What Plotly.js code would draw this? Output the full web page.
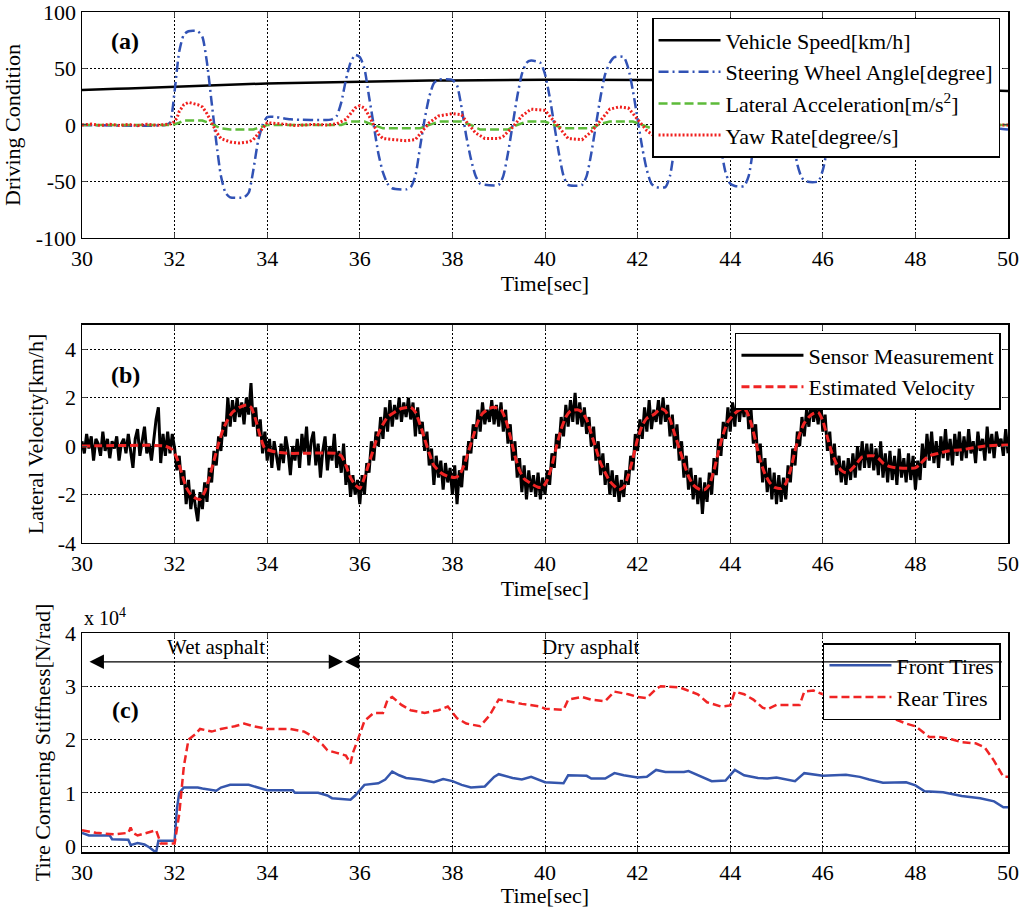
<!doctype html>
<html lang="en">
<head>
<meta charset="UTF-8">
<title>Driving condition, lateral velocity and cornering stiffness</title>
<script src="https://cdn.plot.ly/plotly-3.0.1.min.js"></script>
<style>
  body { margin: 0; background: white; }
  #chart { width: 1024px; height: 908px; }
</style>
</head>
<body>
<div id="chart"></div>
<script>
// ---------- (a) driving condition ----------
var speedTime  = [30,30.25,30.5,30.75,31,31.25,31.5,31.75,32,32.25,32.5,32.75,33,33.25,33.5,33.75,34,34.25,34.5,34.75,35,35.25,35.5,35.75,36,36.5,37,37.5,38,38.5,39,39.5,40,40.5,41,41.5,42,42.5,43,44,45,46,47,48,49,49.6,50];
var speedValue = [31,31.5,31.8,32,32.2,32.6,33,33.5,34.2,34.5,34.8,35.2,35.3,35.8,36.2,36.5,36.8,37,37.2,37.5,37.8,38,38.3,38.5,38.6,38.9,39.2,39.3,39.4,39.7,39.8,40,40,40.1,40,40.2,40.2,40.2,40,39.5,38.5,37,35.5,33.5,31.5,30.5,30];

var swaTime  = [30,31.8,31.9,32.0,32.1,32.2,32.3,32.5,32.6,32.7,32.8,32.9,33.0,33.1,33.2,33.5,33.6,33.7,33.8,33.9,34.0,34.2,34.5,35.4,35.5,35.6,35.7,35.8,35.9,36.0,
                36.1,36.2,36.3,36.4,36.5,36.6,36.7,37.0,37.1,37.2,37.3,37.4,37.5,37.6,37.7,38.0,38.1,38.2,38.3,38.4,38.5,38.6,38.7,39.0,39.1,39.2,39.3,39.4,39.5,39.6,
                39.7,39.9,40.0,40.1,40.2,40.3,40.4,40.5,40.8,40.9,41.0,41.1,41.2,41.3,41.4,41.5,41.7,41.8,41.9,42.0,42.1,42.2,42.3,42.4,42.6,42.7,42.8,43.0,43.2,43.4,
                43.6,43.7,43.8,43.9,44.0,44.1,44.3,44.4,44.5,44.6,44.8,45.0,45.2,45.35,45.45,45.55,45.65,45.9,46.0,46.1,46.2,46.3,47,48,49,49.8,50];
var swaValue = [0,0,2,30,65,80,83,83,78,55,20,-15,-45,-60,-64,-64,-60,-40,-15,0,7,7,5,5,8,20,40,55,62,60,
                50,25,0,-25,-42,-52,-56,-57,-55,-45,-20,5,25,37,40,40,35,15,-10,-30,-45,-52,-53,-53,-45,-25,0,25,45,55,
                57,55,45,25,0,-25,-45,-53,-53,-45,-25,0,25,45,55,60,60,50,30,5,-20,-40,-52,-55,-55,-45,-20,15,45,55,
                50,20,-20,-42,-52,-54,-54,-45,-20,5,40,50,30,-10,-35,-47,-50,-50,-40,-20,0,5,3,2,0,-3,-4];

var latTime  = [30,31.95,32.1,32.2,32.6,32.8,33.0,33.2,33.7,33.9,34.0,35.6,35.8,36.1,36.3,36.5,37.3,37.5,37.7,38.2,38.4,38.6,39.2,39.4,39.6,40.0,40.2,40.4,41.0,41.2,
                41.4,41.9,42.1,42.3,42.9,43.1,43.3,43.8,44.0,44.2,44.7,44.9,45.1,45.5,45.7,45.9,46.3,46.6,50];
var latValue = [0,0,2,4,4,1,-3,-4,-4,-1,0,0,3,3,0,-3,-3,0,3,3,0,-4,-4,0,3,3,0,-3,-3,1,
                3,3,0,-3,-3,0,3,3,0,-3,-3,0,3,3,0,-3,-2,0,0];

var yawTime  = [30,30.2,30.4,30.6,30.8,31.0,31.2,31.4,31.6,31.8,31.95,32.05,32.1,32.2,32.3,32.4,32.5,32.6,32.7,32.8,32.9,33.0,33.2,33.4,33.6,33.7,33.8,33.9,34.0,34.3,
                34.6,35.0,35.3,35.5,35.7,35.8,35.9,36.0,36.1,36.2,36.3,36.4,36.5,36.8,37.0,37.2,37.3,37.5,37.7,38.0,38.2,38.3,38.5,38.7,39.0,39.1,39.3,39.5,39.7,40.0,
                40.1,40.3,40.5,40.8,41.0,41.2,41.4,41.6,41.8,42.0,42.2,42.4,42.8,43.0,43.2,43.5,43.8,44.0,44.2,44.6,44.8,45.0,45.3,45.6,45.8,46.0,46.3,46.6,47,48,49,50];
var yawValue = [0,0.8,-0.5,0.6,-0.4,0.5,-0.6,0.7,-0.3,0.5,1,6,12,18,20,19,18,16,10,2,-6,-12,-15,-16,-15,-13,-8,-2,2,1,
                -0.5,0.5,0,1,5,10,15,17,15,8,0,-8,-12,-13,-14,-13,-8,2,8,10,9,3,-7,-12,-12,-10,-2,8,14,13,
                8,-2,-12,-13,-6,4,14,16,15,5,-5,-11,-12,-4,8,13,10,0,-10,-12,-4,8,12,5,-5,-9,-6,-2,0,0,0,0];

// ---------- (b) lateral velocity ----------
var sensorStart = 30, sensorStep = 0.05;
var sensorValue = [
  0.2,-0.3,0.5,-0.1,0.4,-0.6,0.3,0.1,-0.4,0.6,-0.2,0.3,-0.5,0.2,-0.1,0.4,-0.6,0.1,0.3,-0.3,
  0.5,-0.2,-0.9,0.3,0.7,-0.4,0.2,0.8,-0.3,0.1,-0.6,0.4,1.1,1.6,-0.7,0.5,-0.4,0.6,-0.3,0.5,
  -0.1,-1.0,-0.4,-1.6,-1.0,-2.4,-1.4,-2.6,-1.8,-2.5,-3.1,-1.9,-2.6,-1.5,-2.3,-0.9,-1.5,-0.2,-0.8,0.4,
  -0.2,1.0,0.4,2.0,0.8,1.9,1.0,2.0,1.2,1.8,0.9,2.0,1.3,2.6,0.8,1.6,0.4,1.1,-0.3,0.6,
  -0.6,0.3,-0.9,0.2,-0.5,-1.0,0.1,-0.7,0.4,-0.2,-1.2,0.0,-0.6,0.3,-0.9,0.5,-0.3,0.8,-0.8,0.2,
  0.6,-0.8,0.1,-1.3,-0.2,0.4,-1.0,0.0,-0.6,0.5,-0.9,-0.2,-1.1,0.1,-1.6,-0.8,-2.1,-1.2,-2.0,-1.4,
  -2.4,-1.2,-2.0,-0.7,-1.1,0.2,-0.6,0.6,0.0,1.2,0.3,1.6,0.6,1.9,0.8,1.7,1.1,2.0,1.0,1.8,
  1.2,2.0,1.1,1.8,0.4,1.6,0.5,1.0,-0.2,0.6,-0.8,-0.1,-1.6,-0.4,-1.3,-0.6,-1.8,-0.7,-1.5,-0.9,
  -2.0,-0.8,-2.4,-1.0,-1.7,-0.4,-1.0,0.2,-0.3,0.9,0.3,1.5,0.6,1.8,0.9,1.5,1.0,1.9,0.9,1.7,
  0.8,1.8,0.6,1.5,0.1,0.9,-0.6,0.2,-1.3,-0.5,-1.9,-0.8,-2.2,-1.0,-1.9,-1.2,-2.1,-1.1,-2.2,-1.3,
  -2.0,-1.0,-1.6,-0.3,-0.9,0.5,-0.1,1.2,0.4,1.7,0.8,1.9,1.0,2.2,0.9,1.8,0.8,1.6,0.5,1.2,
  0.0,0.8,-0.6,0.2,-1.2,-0.3,-1.6,-0.7,-2.0,-1.0,-2.1,-1.2,-2.3,-1.4,-2.1,-1.0,-1.6,-0.4,-1.0,0.5,
  -0.2,1.1,0.3,1.6,0.6,1.9,0.7,1.5,1.0,1.9,0.9,2.0,1.0,1.7,0.4,1.3,-0.1,0.9,-0.6,0.2,
  -1.3,-0.4,-1.8,-0.9,-2.2,-1.2,-2.4,-1.3,-2.8,-1.5,-2.3,-1.1,-2.0,-0.5,-1.2,0.3,-0.4,1.0,0.3,1.6,
  0.6,1.8,0.8,2.2,1.0,1.9,1.2,2.3,0.7,1.5,0.1,0.9,-0.7,0.1,-1.5,-0.5,-1.9,-0.9,-2.2,-1.1,
  -2.4,-1.2,-2.3,-1.3,-2.2,-0.8,-1.5,-0.1,-0.8,0.6,0.0,1.2,0.4,1.5,0.8,1.9,1.0,1.6,0.9,2.0,
  0.6,1.3,-0.2,0.6,-0.8,0.1,-1.2,-0.4,-1.5,-0.6,-1.6,-0.5,-1.4,-0.3,-1.3,0.0,-1.0,0.2,-0.9,0.1,
  -0.9,0.1,-1.0,-0.1,-1.2,0.2,-1.3,-0.3,-1.5,-0.2,-1.4,-0.4,-1.6,-0.1,-1.3,-0.5,-1.5,-0.3,-1.4,-0.4,
  -1.8,-0.6,-1.4,0.1,-0.9,0.5,-0.6,0.6,-0.7,0.2,-0.9,0.4,-0.5,0.7,-0.6,0.3,-0.8,0.5,-0.4,0.6,
  -0.6,0.4,-0.5,0.7,-0.3,0.2,-0.7,0.6,-0.2,0.3,-0.6,0.8,-0.3,0.5,-0.5,0.6,0.0,0.3,-0.4,0.7,
  -0.3
];
var sensorTime = sensorValue.map(function (v, i) { return sensorStart + i * sensorStep; });

var estTime  = [30,31.8,31.95,32.05,32.15,32.25,32.35,32.45,32.55,32.65,32.75,32.85,32.95,33.05,33.15,33.25,33.4,33.55,33.65,33.75,33.85,33.95,34.2,34.5,35.5,35.6,35.7,35.8,35.9,36.0,
                36.1,36.2,36.3,36.4,36.5,36.6,36.75,36.9,37.1,37.2,37.3,37.4,37.5,37.6,37.75,37.9,38.05,38.15,38.25,38.35,38.45,38.55,38.65,38.8,38.9,39.05,39.15,39.25,39.35,39.45,
                39.55,39.7,39.85,39.95,40.05,40.15,40.25,40.35,40.45,40.55,40.7,40.8,40.9,41.0,41.1,41.2,41.3,41.4,41.5,41.6,41.7,41.8,41.9,42.0,42.1,42.2,42.35,42.5,42.6,42.7,
                42.8,42.9,43.0,43.1,43.2,43.35,43.45,43.55,43.65,43.75,43.85,43.95,44.1,44.25,44.35,44.45,44.55,44.65,44.75,44.85,44.95,45.1,45.2,45.3,45.4,45.5,45.6,45.7,45.8,45.9,
                46.0,46.1,46.2,46.3,46.4,46.5,46.6,46.7,46.85,47.0,47.1,47.2,47.3,47.45,47.6,48.0,48.1,48.2,48.3,48.5,48.7,49.0,49.5,50];
var estValue = [0,0,-0.15,-0.5,-1.1,-1.7,-2.0,-2.15,-2.2,-1.9,-1.3,-0.6,0.1,0.7,1.1,1.4,1.6,1.7,1.6,1.1,0.4,-0.1,-0.25,-0.3,-0.3,-0.4,-0.8,-1.3,-1.6,-1.75,
                -1.3,-0.7,-0.1,0.5,0.9,1.2,1.4,1.55,1.6,1.4,0.9,0.3,-0.3,-0.8,-1.1,-1.25,-1.3,-1.2,-0.8,-0.2,0.4,1.0,1.35,1.55,1.6,1.5,1.1,0.4,-0.4,-1.0,
                -1.35,-1.55,-1.7,-1.7,-1.4,-0.8,0.0,0.7,1.2,1.45,1.5,1.4,1.1,0.5,-0.1,-0.7,-1.1,-1.45,-1.65,-1.8,-1.7,-1.2,-0.5,0.3,0.85,1.15,1.3,1.55,1.45,1.1,
                0.5,-0.1,-0.7,-1.25,-1.6,-1.8,-1.8,-1.6,-1.0,-0.2,0.5,1.0,1.35,1.55,1.45,0.95,0.2,-0.6,-1.15,-1.5,-1.7,-1.75,-1.55,-1.0,-0.2,0.5,0.95,1.2,1.35,1.4,
                1.05,0.35,-0.3,-0.75,-1.0,-1.1,-1.0,-0.8,-0.45,-0.4,-0.4,-0.5,-0.7,-0.85,-0.9,-0.9,-0.75,-0.55,-0.4,-0.3,-0.2,-0.15,0.0,0.05];

// ---------- (c) cornering stiffness, x 10^4 N/rad ----------
var frontTime  = [30,30.15,30.6,30.65,31.0,31.05,31.2,31.35,31.45,31.55,31.6,31.65,32.0,32.05,32.1,32.2,32.5,32.6,32.9,33.0,33.2,33.6,33.8,34.0,34.55,34.6,35.1,35.3,35.4,35.8,
                  35.9,36.0,36.1,36.4,36.55,36.7,36.85,37.0,37.3,37.6,37.8,38.0,38.2,38.4,38.7,38.9,39.0,39.3,39.5,39.7,40.0,40.4,40.5,40.9,41.0,41.3,41.5,41.7,42.0,42.2,
                  42.4,42.6,43.0,43.1,43.4,43.6,43.9,44.1,44.3,44.6,44.8,45.0,45.4,45.6,46.0,46.5,46.8,47.0,47.3,47.8,48.0,48.2,48.6,49.0,49.4,49.7,49.9,50];
var frontValue = [0.25,0.2,0.2,0.13,0.12,0.02,0.06,0.03,-0.02,-0.08,-0.12,0.1,0.1,0.7,1.0,1.1,1.1,1.08,1.04,1.1,1.15,1.15,1.1,1.05,1.05,1.0,1.0,0.95,0.9,0.87,
                  0.95,1.05,1.15,1.18,1.25,1.4,1.33,1.28,1.25,1.2,1.26,1.22,1.15,1.1,1.12,1.3,1.35,1.28,1.25,1.3,1.2,1.18,1.33,1.32,1.27,1.27,1.37,1.33,1.29,1.3,
                  1.43,1.39,1.39,1.41,1.3,1.22,1.23,1.43,1.33,1.28,1.27,1.29,1.22,1.37,1.32,1.34,1.3,1.25,1.19,1.2,1.14,1.03,1.01,0.94,0.9,0.84,0.73,0.73];

var rearTime  = [30,30.3,30.7,31.0,31.05,31.1,31.2,31.5,31.6,31.7,32.0,32.1,32.15,32.2,32.3,32.45,32.55,32.8,33.0,33.3,33.5,33.7,34.0,34.5,34.8,35.0,35.2,35.3,35.5,35.7,
                 35.8,35.85,36.0,36.1,36.3,36.5,36.6,36.7,36.9,37.1,37.4,37.7,37.9,38.1,38.3,38.6,38.8,39.0,39.2,39.5,39.9,40.0,40.4,40.5,40.8,41.0,41.3,41.5,41.8,42.0,
                 42.2,42.4,42.5,42.9,43.0,43.3,43.5,43.8,44.0,44.1,44.3,44.5,44.7,44.8,45.0,45.5,45.6,45.8,46.0,46.5,47.0,47.3,47.5,47.8,48.0,48.3,48.5,48.8,49.0,49.3,
                 49.5,49.7,49.9,50];
var rearValue = [0.3,0.25,0.22,0.25,0.35,0.25,0.2,0.27,0.3,0.05,0.05,0.6,1.0,1.5,2.0,2.1,2.2,2.15,2.2,2.25,2.3,2.25,2.2,2.2,2.15,2.05,1.9,1.8,1.75,1.7,
                 1.55,1.75,2.1,2.35,2.5,2.5,2.75,2.8,2.65,2.55,2.5,2.55,2.62,2.4,2.3,2.25,2.45,2.75,2.72,2.67,2.62,2.58,2.56,2.75,2.8,2.75,2.72,2.9,2.85,2.8,
                 2.78,2.95,3.0,2.98,2.95,2.85,2.7,2.62,2.64,2.9,2.85,2.75,2.6,2.57,2.65,2.65,2.9,2.92,2.85,2.85,2.67,2.5,2.4,2.3,2.25,2.05,2.05,2.0,1.95,1.93,
                 1.85,1.6,1.3,1.3];

var xTicks = [30, 32, 34, 36, 38, 40, 42, 44, 46, 48, 50];
var yTicksA = [-100, -50, 0, 50, 100];
var yTicksB = [-4, -2, 0, 2, 4];
var yTicksC = [0, 1, 2, 3, 4];

var serif = 'Liberation Serif, Times New Roman, serif';
var fs = 22;

var traces = [
  { x: speedTime, y: speedValue, name: 'Vehicle Speed[km/h]', mode: 'lines',
    line: { color: 'black', width: 2.5 }, xaxis: 'x', yaxis: 'y', legend: 'legend' },
  { x: swaTime, y: swaValue, name: 'Steering Wheel Angle[degree]', mode: 'lines',
    line: { color: '#3152b5', width: 2.5, dash: '10px,4px,2px,4px', shape: 'spline', smoothing: 0.6 },
    xaxis: 'x', yaxis: 'y', legend: 'legend' },
  { x: latTime, y: latValue, name: 'Lateral Acceleration[m/s<sup>2</sup>]', mode: 'lines',
    line: { color: '#5dbb3a', width: 2.5, dash: '9px,4px' }, xaxis: 'x', yaxis: 'y', legend: 'legend' },
  { x: yawTime, y: yawValue, name: 'Yaw Rate[degree/s]', mode: 'lines',
    line: { color: '#f0201e', width: 3, dash: '2px,2px' }, xaxis: 'x', yaxis: 'y', legend: 'legend' },

  { x: sensorTime, y: sensorValue, name: 'Sensor Measurement', mode: 'lines',
    line: { color: 'black', width: 3 }, xaxis: 'x2', yaxis: 'y2', legend: 'legend2' },
  { x: estTime, y: estValue, name: 'Estimated Velocity', mode: 'lines',
    line: { color: '#f02424', width: 3, dash: '8px,4px', shape: 'spline', smoothing: 0.5 },
    xaxis: 'x2', yaxis: 'y2', legend: 'legend2' },

  { x: frontTime, y: frontValue, name: 'Front Tires', mode: 'lines',
    line: { color: '#3556ad', width: 2.5 }, xaxis: 'x3', yaxis: 'y3', legend: 'legend3' },
  { x: rearTime, y: rearValue, name: 'Rear Tires', mode: 'lines',
    line: { color: '#f02424', width: 2.5, dash: '8px,4px' }, xaxis: 'x3', yaxis: 'y3', legend: 'legend3' }
];

function axisBase() {
  return {
    ticks: 'inside', ticklen: 5, ticklabeloverflow: 'allow',
    showline: true, mirror: 'ticks', linecolor: 'black', linewidth: 1.5,
    showgrid: true, gridcolor: 'black', griddash: '2px,2px', gridwidth: 1, zeroline: false,
    tickfont: { family: serif, size: fs, color: 'black' }
  };
}
function xAxis(anchor) {
  return Object.assign(axisBase(), {
    anchor: anchor, range: [30, 50], tickvals: xTicks, ticktext: xTicks.map(String),
    title: { text: 'Time[sec]', font: { family: serif, size: fs, color: 'black' }, standoff: 2 }
  });
}
function yAxis(anchor, domain, range, ticks, title, standoff) {
  return Object.assign(axisBase(), {
    anchor: anchor, domain: domain, range: range, tickvals: ticks,
    ticktext: ticks.map(function (t) { return String(t); }),
    title: { text: title, font: { family: serif, size: fs, color: 'black' }, standoff: standoff }
  });
}

var legendBase = {
  bgcolor: 'white', bordercolor: 'black', borderwidth: 1.5, itemwidth: 62,
  xanchor: 'right', yanchor: 'top', font: { family: serif, size: fs, color: 'black' }
};

var layout = {
  width: 1024, height: 908,
  margin: { l: 82, r: 16, t: 12, b: 56 },
  paper_bgcolor: 'white', plot_bgcolor: 'white',
  showlegend: true,
  xaxis: xAxis('y'),
  xaxis2: xAxis('y2'),
  xaxis3: xAxis('y3'),
  yaxis: yAxis('x', [0.731, 1], [-100, 100], yTicksA, 'Driving Condition', 10),
  yaxis2: yAxis('x2', [0.3679, 0.6274], [-4, 5], yTicksB, 'Lateral Velocity[km/h]', 8),
  yaxis3: yAxis('x3', [0, 0.2607], [-0.11, 4], yTicksC, 'Tire Cornering Stiffness[N/rad]', 8),
  legend: Object.assign({}, legendBase, { x: 0.9914, y: 0.9929 }),
  legend2: Object.assign({}, legendBase, { x: 0.9924, y: 0.6179 }),
  legend3: Object.assign({}, legendBase, { x: 0.9924, y: 0.2488 }),
  annotations: [
    { text: '<b>(a)</b>', xref: 'x', yref: 'y', x: 30.93, y: 74, showarrow: false,
      font: { family: serif, size: 24, color: 'black' } },
    { text: '<b>(b)</b>', xref: 'x2', yref: 'y2', x: 30.93, y: 2.93, showarrow: false,
      font: { family: serif, size: 24, color: 'black' } },
    { text: '<b>(c)</b>', xref: 'x3', yref: 'y3', x: 30.93, y: 2.56, showarrow: false,
      font: { family: serif, size: 24, color: 'black' } },
    { text: 'x 10<sup>4</sup>', xref: 'paper', yref: 'paper', x: 0, y: 0.263, xanchor: 'left', yanchor: 'bottom',
      showarrow: false, font: { family: serif, size: 20, color: 'black' } },
    { text: 'Wet asphalt', xref: 'x3', yref: 'y3', x: 32.9, y: 3.48, yanchor: 'bottom', showarrow: false,
      font: { family: serif, size: 21, color: 'black' } },
    { text: 'Dry asphalt', xref: 'x3', yref: 'y3', x: 41.0, y: 3.48, yanchor: 'bottom', showarrow: false,
      font: { family: serif, size: 21, color: 'black' } },
    { text: '', xref: 'x3', yref: 'y3', x: 35.64, y: 3.46, axref: 'x3', ayref: 'y3', ax: 30.13, ay: 3.46,
      showarrow: true, arrowside: 'end+start', arrowhead: 2, startarrowhead: 2, arrowsize: 2.4, startarrowsize: 2.4,
      arrowwidth: 1.2, arrowcolor: 'black', standoff: 0, startstandoff: 0 },
    { text: '', xref: 'x3', yref: 'y3', x: 35.68, y: 3.46, axref: 'x3', ayref: 'y3', ax: 49.9, ay: 3.46,
      showarrow: true, arrowside: 'end', arrowhead: 2, arrowsize: 2.4,
      arrowwidth: 1.2, arrowcolor: 'black', standoff: 0 }
  ]
};

Plotly.newPlot('chart', traces, layout, { displayModeBar: false, staticPlot: true });
</script>
</body>
</html>
